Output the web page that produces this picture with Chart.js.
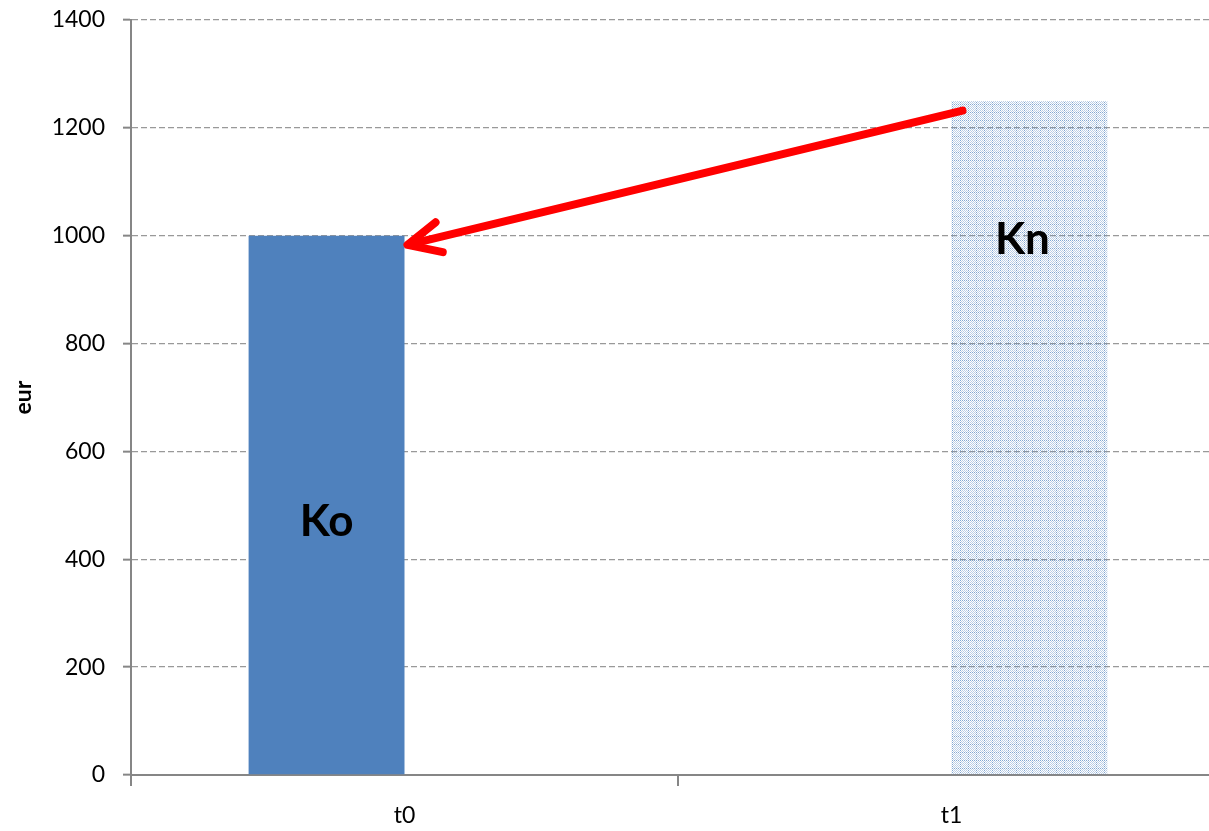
<!DOCTYPE html>
<html>
<head>
<meta charset="utf-8">
<script src="https://cdn.jsdelivr.net/npm/chart.js@4.4.1/dist/chart.umd.min.js"></script>
<style>
  html, body { margin: 0; padding: 0; background: #fff; overflow: hidden; }
  #wrap { width: 1209px; height: 831px; overflow: hidden; }
  #box { width: 1230px; height: 831px; }
</style>
</head>
<body>
<div id="wrap"><div id="box"><canvas id="capChart"></canvas></div></div>
<script>
// periods and capital at each
const periods = ['t0', 't1'];
const koValues = [1000, null];
const knValues = [null, 1250];
const yTicks = [0, 200, 400, 600, 800, 1000, 1200, 1400];

const FONT = 'Lato, "Open Sans", sans-serif';

// light dotted fill for the future value bar
function dottedPattern() {
    const c = document.createElement('canvas');
    c.width = 8;
    c.height = 8;
    const g = c.getContext('2d');
    for (let y = 0; y < 8; y++) {
        for (let x = 0; x < 8; x++) {
            if ((x + y) % 2 !== 0) continue;
            g.fillStyle = (x === 0 || y === 0) ? 'rgba(79,129,189,0.7)' : 'rgba(79,129,189,0.38)';
            g.fillRect(x, y, 1, 1);
        }
    }
    return g.createPattern(c, 'repeat');
}

// Ko / Kn names inside the bars
const barNames = {
    id: 'barNames',
    afterDatasetsDraw(chart) {
        const ctx = chart.ctx;
        const y = chart.scales.y;
        const ko = chart.getDatasetMeta(0).data[0];
        const kn = chart.getDatasetMeta(1).data[1];
        ctx.save();
        ctx.fillStyle = '#000';
        ctx.font = 'bold 44px ' + FONT;
        ctx.textAlign = 'center';
        ctx.textBaseline = 'middle';
        ctx.fillText('Ko', ko.x, y.getPixelForValue(469));
        ctx.fillText('Kn', kn.x - 7, y.getPixelForValue(992));
        ctx.restore();
    }
};

// discounting arrow from Kn back to Ko
const discountArrow = {
    id: 'discountArrow',
    afterDatasetsDraw(chart) {
        const ctx = chart.ctx;
        const y = chart.scales.y;
        const ko = chart.getDatasetMeta(0).data[0];
        const kn = chart.getDatasetMeta(1).data[1];
        const x1 = kn.x - kn.width / 2 + 11, y1 = y.getPixelForValue(1232);
        const x2 = ko.x + ko.width / 2 + 3, y2 = y.getPixelForValue(983);
        const ang = Math.atan2(y1 - y2, x1 - x2);
        const len = 36, spread = 0.44;
        ctx.save();
        ctx.strokeStyle = '#ff0000';
        ctx.lineWidth = 8;
        ctx.lineCap = 'round';
        ctx.lineJoin = 'round';
        ctx.beginPath();
        ctx.moveTo(x1, y1);
        ctx.lineTo(x2 + 3 * Math.cos(ang), y2 + 3 * Math.sin(ang));
        ctx.stroke();
        ctx.beginPath();
        ctx.moveTo(x2 + len * Math.cos(ang - spread), y2 + len * Math.sin(ang - spread));
        ctx.lineTo(x2, y2);
        ctx.lineTo(x2 + len * Math.cos(ang + spread), y2 + len * Math.sin(ang + spread));
        ctx.stroke();
        ctx.restore();
    }
};

const ctx = document.getElementById('capChart').getContext('2d');

new Chart(ctx, {
    type: 'bar',
    data: {
        labels: periods,
        datasets: [
            {
                label: 'Ko',
                data: koValues,
                backgroundColor: '#4f81bd',
                borderWidth: 0,
                barPercentage: 1,
                categoryPercentage: 0.57
            },
            {
                label: 'Kn',
                data: knValues,
                backgroundColor: dottedPattern(),
                borderWidth: 0,
                barPercentage: 1,
                categoryPercentage: 0.57
            }
        ]
    },
    options: {
        responsive: true,
        maintainAspectRatio: false,
        animation: false,
        layout: {
            padding: { top: 20, right: 5, left: 0, bottom: 0 }
        },
        scales: {
            x: {
                grid: {
                    offset: true,
                    drawOnChartArea: false,
                    color: '#868686',
                    lineWidth: 2,
                    tickLength: 11
                },
                border: { color: '#868686', width: 2 },
                ticks: {
                    color: '#000',
                    padding: 16,
                    font: { family: FONT, size: 23 }
                },
                afterFit(scale) { scale.height = 56; }
            },
            y: {
                min: 0,
                max: 1400,
                afterBuildTicks(scale) {
                    scale.ticks = yTicks.map(v => ({ value: v }));
                },
                grid: {
                    color: '#999999',
                    lineWidth: 1.3,
                    tickColor: '#868686',
                    tickWidth: 2,
                    tickLength: 8
                },
                border: { color: '#868686', width: 2, dash: [6, 3] },
                ticks: {
                    color: '#000',
                    padding: 18,
                    font: { family: FONT, size: 23 },
                    callback: v => String(v)
                },
                title: {
                    display: true,
                    text: 'eur',
                    color: '#000',
                    padding: { top: 10, bottom: 0 },
                    font: { family: FONT, size: 23, weight: 'bold' }
                },
                afterFit(scale) {
                    scale.width = 131;
                    scale.paddingTop = 0;
                    scale.paddingBottom = 0;
                }
            }
        },
        plugins: {
            legend: { display: false },
            tooltip: { enabled: false }
        }
    },
    plugins: [barNames, discountArrow]
});
</script>
</body>
</html>
